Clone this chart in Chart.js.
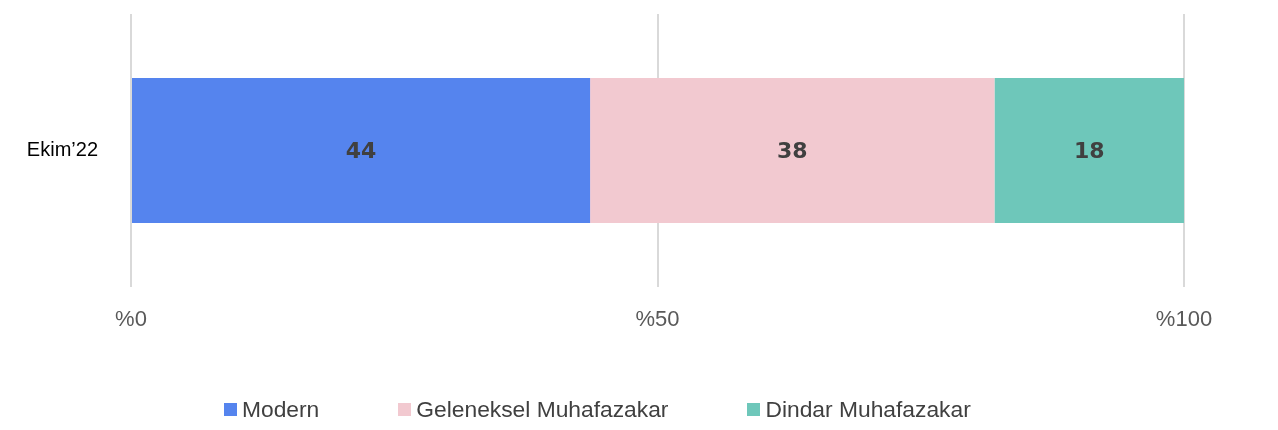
<!DOCTYPE html>
<html lang="tr">
<head>
<meta charset="utf-8">
<title>Ekim'22</title>
<script src="https://cdn.jsdelivr.net/npm/chart.js@4.4.1/dist/chart.umd.min.js"></script>
<style>
    html, body { margin: 0; padding: 0; background: #fff; }
    #wrap { position: relative; width: 1278px; height: 430px; }
    #legend {
        position: absolute; left: 224px; top: 396px;
        display: flex; align-items: center;
        font-family: 'Liberation Sans', Arial, sans-serif; font-size: 22.8px; color: #404040;
    }
    #legend .item { display: flex; align-items: center; margin-right: 79px; }
    #legend .box { width: 13px; height: 13px; margin-right: 5px; }
</style>
</head>
<body>
<div id="wrap">
    <canvas id="chart" width="1278" height="430"></canvas>
    <div id="legend"></div>
</div>
<script>
// data
const categories = ['Ekim\u201922'];
const seriesNames = ['Modern', 'Geleneksel Muhafazakar', 'Dindar Muhafazakar'];
const modern = [43.6];
const geleneksel = [38.4];
const dindar = [18];
const tickLabels = ['%0', '%50', '%100'];
const seriesColors = ['#5584EE', '#F2C9D0', '#6EC7BA'];

const values = [modern, geleneksel, dindar];

// labels in the middle of each bar
const barLabels = {
    id: 'barLabels',
    afterDatasetsDraw(chart) {
        const ctx = chart.ctx;
        ctx.save();
        ctx.font = 'bold 22px "DejaVu Sans", sans-serif';
        ctx.fillStyle = '#404040';
        ctx.textAlign = 'center';
        ctx.textBaseline = 'middle';
        chart.data.datasets.forEach((ds, i) => {
            chart.getDatasetMeta(i).data.forEach((bar, j) => {
                const p = bar.getCenterPoint();
                ctx.fillText(Math.round(ds.data[j]), p.x, p.y + 2);
            });
        });
        ctx.restore();
    }
};

new Chart(document.getElementById('chart'), {
    type: 'bar',
    data: {
        labels: categories,
        datasets: seriesNames.map((name, i) => ({
            label: name,
            data: values[i],
            backgroundColor: seriesColors[i],
            borderWidth: 0,
            barPercentage: 0.531,
            categoryPercentage: 1
        }))
    },
    options: {
        indexAxis: 'y',
        responsive: false,
        animation: false,
        layout: { padding: { top: 14, right: 94, left: 0, bottom: 0 } },
        plugins: {
            legend: { display: false },
            tooltip: { enabled: false }
        },
        scales: {
            x: {
                stacked: true,
                min: 0,
                max: 100,
                afterBuildTicks: (scale) => {
                    scale.ticks = [0, 50, 100].map(v => ({ value: v }));
                },
                afterFit: (scale) => { scale.height = 143; },
                grid: { color: '#d9d9d9', lineWidth: 2, drawTicks: false },
                border: { display: false },
                ticks: {
                    padding: 20,
                    color: '#595959',
                    font: { family: 'Liberation Sans', size: 22 },
                    callback: (v, i) => tickLabels[i]
                }
            },
            y: {
                stacked: true,
                afterFit: (scale) => { scale.width = 131; },
                grid: { display: false, tickLength: 33 },
                border: { display: false },
                ticks: {
                    padding: 0,
                    color: '#000',
                    font: { family: 'Liberation Sans', size: 20 }
                }
            }
        }
    },
    plugins: [barLabels]
});

// legend
const legendEl = document.getElementById('legend');
seriesNames.forEach((name, i) => {
    const item = document.createElement('div');
    item.className = 'item';
    const box = document.createElement('span');
    box.className = 'box';
    box.style.background = seriesColors[i];
    const txt = document.createElement('span');
    txt.textContent = name;
    item.appendChild(box);
    item.appendChild(txt);
    legendEl.appendChild(item);
});
</script>
</body>
</html>
